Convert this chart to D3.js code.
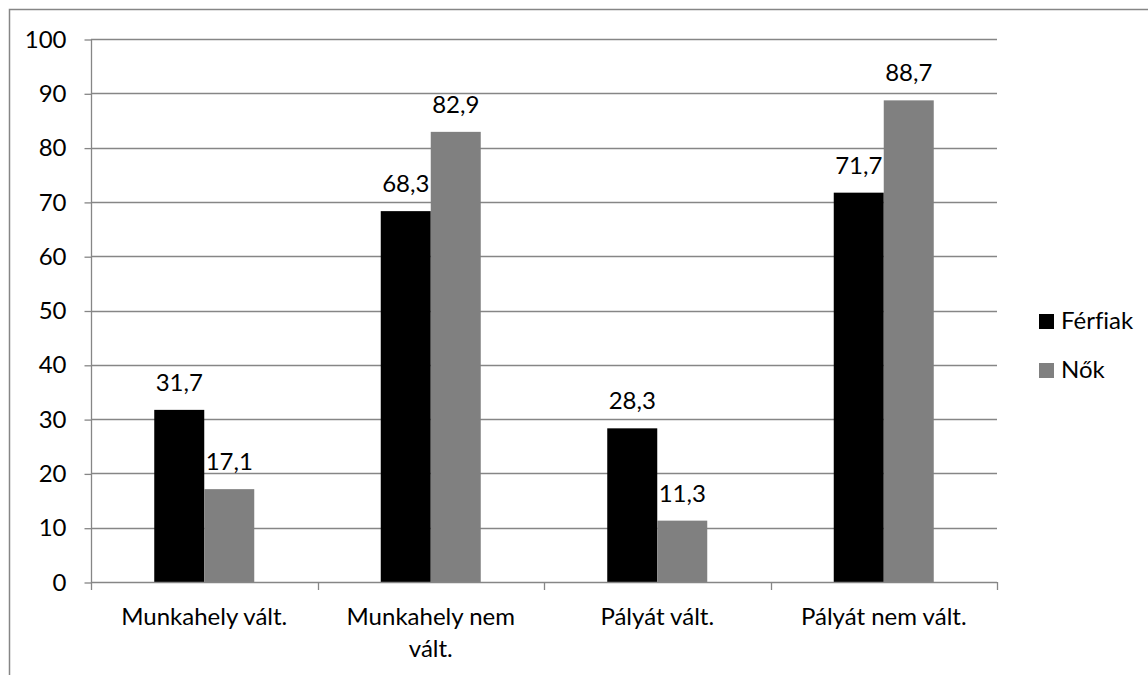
<!DOCTYPE html>
<html><head><meta charset="utf-8">
<script src="https://cdn.jsdelivr.net/npm/d3@7"></script>
<style>body{margin:0;background:#fff}svg{display:block}text{font-variant-ligatures:none;font-feature-settings:"liga" 0}</style>
</head><body>
<svg id="c" width="1148" height="675"></svg>
<script>
const categories = [["Munkahely vált."], ["Munkahely nem", "vált."], ["Pályát vált."], ["Pályát nem vált."]];
const seriesNames = ["Férfiak", "Nők"];
const ferfiak = [31.7, 68.3, 28.3, 71.7];
const nok = [17.1, 82.9, 11.3, 88.7];
const yTicks = [0, 10, 20, 30, 40, 50, 60, 70, 80, 90, 100];
const colors = ["#000000", "#808080"];

const svg = d3.select("#c");
const font = "Lato, 'Open Sans', sans-serif";
const fs = 24;
svg.append("rect").attr("x", 9.5).attr("y", 9.5).attr("width", 1150).attr("height", 680)
  .attr("fill", "#fff").attr("stroke", "#868686").attr("stroke-width", 1.5);

const L = 91, R = 997, T = 39, B = 582;
const x = d3.scaleBand().domain(d3.range(categories.length)).range([L, R]).padding(0);
const y = d3.scaleLinear().domain([0, 100]).range([B, T]);

// gridlines
svg.append("g").selectAll("line").data(yTicks.filter(d => d > 0)).join("line")
  .attr("x1", L).attr("x2", R).attr("y1", d => Math.round(y(d)) + 0.5).attr("y2", d => Math.round(y(d)) + 0.5)
  .attr("stroke", "#868686").attr("stroke-width", 1.3);

const vals = [ferfiak, nok];
const bw = 50;
const g = svg.append("g");
vals.forEach((arr, s) => {
  g.selectAll(".b" + s).data(arr).join("rect")
    .attr("x", (d, i) => x(i) + x.bandwidth() / 2 - bw + s * bw)
    .attr("width", bw)
    .attr("y", d => y(d)).attr("height", d => B - y(d))
    .attr("fill", colors[s]);
  g.selectAll(".l" + s).data(arr).join("text")
    .attr("x", (d, i) => x(i) + x.bandwidth() / 2 - bw / 2 + s * bw)
    .attr("y", d => y(d) - 19)
    .attr("text-anchor", "middle").attr("font-family", font).attr("font-size", fs)
    .text(d => d.toFixed(1).replace(".", ","));
});

// y axis
const ya = d3.axisLeft(y).tickValues(yTicks).tickSize(7).tickPadding(18).tickFormat(d3.format("d"));
const yg = svg.append("g").attr("transform", `translate(${L + 0.5},0.5)`).call(ya);
yg.select(".domain").attr("stroke", "#868686").attr("stroke-width", 1.3).attr("d", `M0,${T - 0.5}V${B}`);
yg.selectAll(".tick line").attr("stroke", "#868686").attr("stroke-width", 1.3);
yg.selectAll(".tick text").attr("font-family", font).attr("font-size", fs).attr("fill", "#000");

// x axis
const xg = svg.append("g");
xg.append("line").attr("x1", L).attr("x2", R).attr("y1", B + 0.5).attr("y2", B + 0.5)
  .attr("stroke", "#868686").attr("stroke-width", 1.3);
const bounds = d3.range(categories.length + 1).map(i => i < categories.length ? x(i) : R);
xg.selectAll(".t").data(bounds).join("line")
  .attr("x1", d => Math.round(d) + 0.5).attr("x2", d => Math.round(d) + 0.5)
  .attr("y1", B).attr("y2", B + 8).attr("stroke", "#868686").attr("stroke-width", 1.3);
const xt = xg.selectAll(".xl").data(categories).join("text")
  .attr("text-anchor", "middle").attr("font-family", font).attr("font-size", fs)
  .attr("transform", (d, i) => `translate(${x(i) + x.bandwidth() / 2},625)`);
xt.selectAll("tspan").data(d => d).join("tspan").attr("x", 0).attr("dy", (d, j) => j ? 32 : 0).text(d => d);

// legend
const lg = svg.append("g").attr("transform", "translate(1039,314)");
seriesNames.forEach((n, i) => {
  lg.append("rect").attr("x", 0).attr("y", i * 49).attr("width", 15).attr("height", 15).attr("fill", colors[i]);
  lg.append("text").attr("x", 22).attr("y", i * 49 + 15).attr("font-family", font).attr("font-size", fs).text(n);
});
</script>
</body></html>
